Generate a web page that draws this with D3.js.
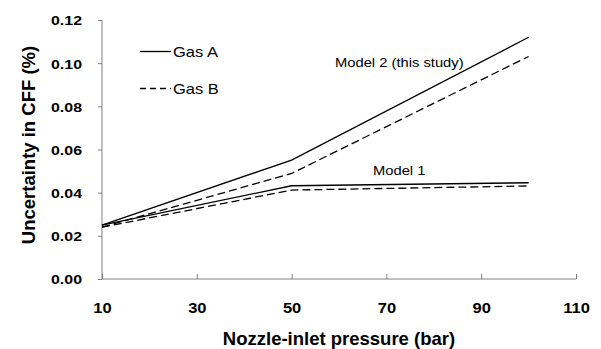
<!DOCTYPE html>
<html>
<head>
<meta charset="utf-8">
<script src="https://cdn.jsdelivr.net/npm/d3@7"></script>
<style>
  body { margin: 0; background: #fff; }
  text { font-family: Arial, "Liberation Sans", sans-serif; }
</style>
</head>
<body>
<svg id="chart" width="601" height="349"></svg>
<script>
// data
const pressure = [10, 50, 100];
const model2_gasA = [0.025, 0.0551, 0.112];
const model2_gasB = [0.024, 0.0489, 0.1031];
const model1_gasA = [0.025, 0.0432, 0.0446];
const model1_gasB = [0.024, 0.0412, 0.0431];
const xTicks = [10, 30, 50, 70, 90, 110];
const yTicks = [0, 0.02, 0.04, 0.06, 0.08, 0.10, 0.12];

const svg = d3.select('#chart');
const margin = {top: 20, left: 102, right: 25, bottom: 70};

const x = d3.scaleLinear().domain([10, 110]).range([margin.left, 576]);
const y = d3.scaleLinear().domain([0, 0.12]).range([279, margin.top]);

const axisColor = '#808080';
const stretch = 1.18; // the original text is a bit wider than plain Arial
const dash = '8,4';

// X axis (ticks point up, inside)
const gx = svg.append('g')
    .attr('transform', `translate(0,${y(0)})`)
    .call(d3.axisBottom(x).tickValues(xTicks).tickSize(-5).tickFormat(d3.format('d')));
gx.select('.domain').attr('stroke', axisColor).attr('d', `M${x(10)},0H${x(110)}`);
gx.selectAll('.tick line').attr('stroke', axisColor);
gx.selectAll('.tick text')
    .attr('y', 24)
    .attr('transform', `scale(${stretch},1)`)
    .style('font-size', '14px').style('font-weight', 'bold').attr('fill', '#000');

// Y axis (ticks out)
const gy = svg.append('g')
    .attr('transform', `translate(${x(10)},0)`)
    .call(d3.axisLeft(y).tickValues(yTicks).tickSize(4).tickFormat(d3.format('.2f')));
gy.select('.domain').attr('stroke', axisColor).attr('d', `M0,${y(0.12)}V${y(0)}`);
gy.selectAll('.tick line').attr('stroke', axisColor);
gy.selectAll('.tick text')
    .attr('x', -20 / stretch)
    .attr('dy', '0.36em')
    .attr('transform', `scale(${stretch},1)`)
    .style('font-size', '13.5px').style('font-weight', 'bold').attr('fill', '#000');

// axis titles
svg.append('text')
    .attr('x', 339).attr('y', 345)
    .attr('text-anchor', 'middle')
    .style('font-size', '18.5px').style('font-weight', 'bold')
    .text('Nozzle-inlet pressure (bar)');

svg.append('text')
    .attr('transform', 'translate(35,145) rotate(-90)')
    .attr('text-anchor', 'middle')
    .style('font-size', '18.5px').style('font-weight', 'bold')
    .text('Uncertainty in CFF (%)');

// lines
const line = d3.line()
    .x((d, i) => x(pressure[i]))
    .y(d => y(d));

const series = [
    {vals: model2_gasA, dash: null},
    {vals: model2_gasB, dash: dash},
    {vals: model1_gasA, dash: null},
    {vals: model1_gasB, dash: dash}
];

series.forEach(s => {
    svg.append('path')
        .attr('d', line(s.vals))
        .attr('fill', 'none')
        .attr('stroke', '#000')
        .attr('stroke-width', 1.3)
        .attr('stroke-dasharray', s.dash);
});

// annotations
const note = (tx, ty, str, size) => svg.append('text')
    .attr('transform', `translate(${tx},${ty}) scale(${stretch},1)`)
    .style('font-size', size)
    .text(str);

note(335, 67, 'Model 2 (this study)', '12.5px');
note(373, 175, 'Model 1', '12.5px');

// legend
const legend = [
    {name: 'Gas A', dash: null, ly: 51.5},
    {name: 'Gas B', dash: '6,4', ly: 88.5}
];
legend.forEach(l => {
    svg.append('line')
        .attr('x1', 140).attr('x2', 171)
        .attr('y1', l.ly).attr('y2', l.ly)
        .attr('stroke', '#000')
        .attr('stroke-width', 1.3)
        .attr('stroke-dasharray', l.dash);
    note(173, l.ly + 5, l.name, '14px');
});
</script>
</body>
</html>
